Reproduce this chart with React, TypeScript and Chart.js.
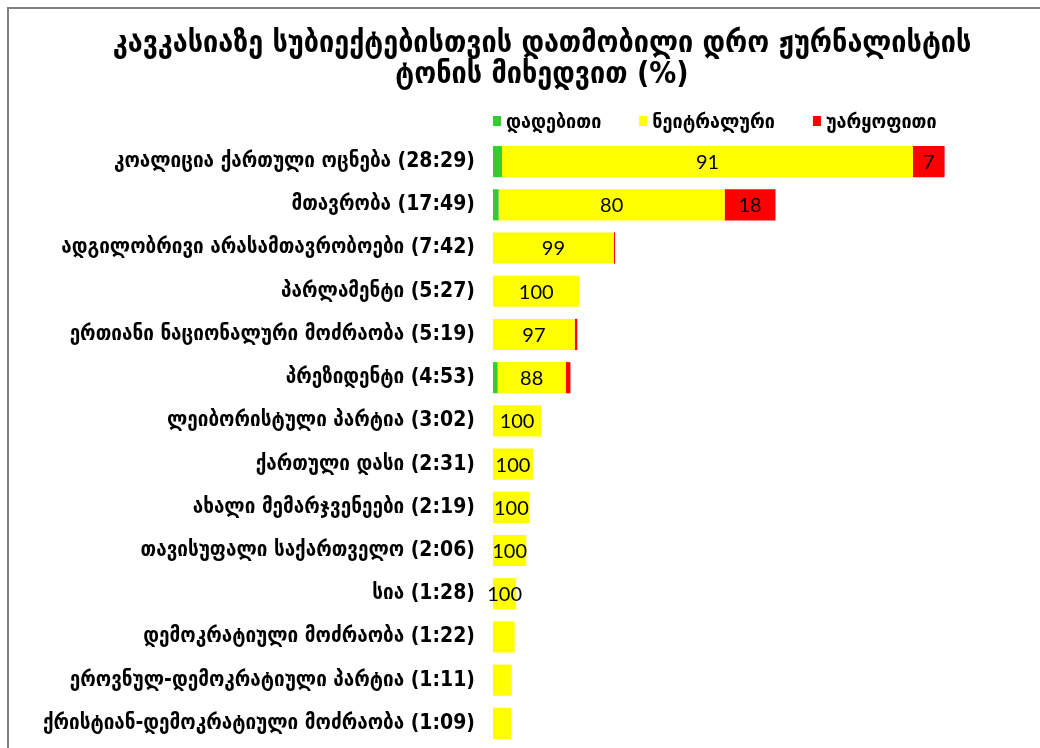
import React, { useEffect, useRef } from "react";
import { Chart, registerables } from "chart.js";

Chart.register(...registerables);

const TITLE_LINES = [
  "კავკასიაზე სუბიექტებისთვის დათმობილი დრო ჟურნალისტის",
  "ტონის მიხედვით (%)",
];

const SUBJECTS = [
  "კოალიცია ქართული ოცნება",
  "მთავრობა",
  "ადგილობრივი არასამთავრობოები",
  "პარლამენტი",
  "ერთიანი ნაციონალური მოძრაობა",
  "პრეზიდენტი",
  "ლეიბორისტული პარტია",
  "ქართული დასი",
  "ახალი მემარჯვენეები",
  "თავისუფალი საქართველო",
  "სია",
  "დემოკრატიული მოძრაობა",
  "ეროვნულ-დემოკრატიული პარტია",
  "ქრისტიან-დემოკრატიული მოძრაობა",
];

// speaking time (mm:ss)
const DURATIONS = [
  "28:29", "17:49", "7:42", "5:27", "5:19", "4:53", "3:02",
  "2:31", "2:19", "2:06", "1:28", "1:22", "1:11", "1:09",
];

const SERIES_NAMES = ["დადებითი", "ნეიტრალური", "უარყოფითი"];
const POSITIVE = [2, 2, 0, 0, 0, 6, 0, 0, 0, 0, 0, 0, 0, 0];
const NEUTRAL = [91, 80, 99, 100, 97, 88, 100, 100, 100, 100, 100, 100, 100, 100];
const NEGATIVE = [7, 18, 1, 0, 3, 6, 0, 0, 0, 0, 0, 0, 0, 0];
const COLORS = ["#33CC33", "#FFFF00", "#FF0000"];

const GEO_FONT = "'DejaVu Sans Condensed', 'DejaVu Sans', sans-serif";
const NUM_FONT = "Lato, 'Open Sans', sans-serif";

const toMinutes = (d: string) => {
  const [m, s] = d.split(":").map(Number);
  return m + s / 60;
};

const framePlugin = {
  id: "frame",
  beforeDraw(chart: any) {
    const { ctx, width, height } = chart;
    ctx.save();
    ctx.fillStyle = "#ffffff";
    ctx.fillRect(0, 0, width, height);
    ctx.fillStyle = "#808080";
    ctx.fillRect(7, 7, width - 7, 2);
    ctx.fillRect(7, 7, 2, height - 7);
    ctx.restore();
  },
};

const legendPlugin = {
  id: "customLegend",
  afterDraw(chart: any) {
    const { ctx, chartArea } = chart;
    ctx.save();
    ctx.font = `bold 20px ${GEO_FONT}`;
    ctx.textBaseline = "middle";
    ctx.textAlign = "left";
    let x = chartArea.left;
    const y = chartArea.top - 17;
    chart.data.datasets.forEach((ds: any) => {
      ctx.fillStyle = ds.backgroundColor;
      ctx.fillRect(x, y - 7, 8, 10);
      ctx.fillStyle = "#000";
      ctx.fillText(ds.label, x + 13, y);
      x += 13 + ctx.measureText(ds.label).width + 38;
    });
    ctx.restore();
  },
};

const valueLabelPlugin = {
  id: "valueLabels",
  afterDatasetsDraw(chart: any) {
    const { ctx } = chart;
    ctx.save();
    ctx.font = `20px ${NUM_FONT}`;
    ctx.fillStyle = "#000";
    ctx.textAlign = "center";
    ctx.textBaseline = "middle";
    chart.data.datasets.forEach((ds: any, di: number) => {
      const meta = chart.getDatasetMeta(di);
      meta.data.forEach((el: any, i: number) => {
        const v = ds.data[i];
        if (!v || v < 1.4) return;
        const { x, base, y } = el.getProps(["x", "base", "y"], true);
        ctx.fillText(String(ds.pct[i]), (x + base) / 2, y + 1);
      });
    });
    ctx.restore();
  },
};

export default function App() {
  const ref = useRef<HTMLCanvasElement | null>(null);

  useEffect(() => {
    if (!ref.current) return;
    const minutes = DURATIONS.map(toMinutes);
    const labels = SUBJECTS.map((s, i) => `${s} (${DURATIONS[i]})`);
    const series = [POSITIVE, NEUTRAL, NEGATIVE];
    const chart = new Chart(ref.current, {
      type: "bar",
      data: {
        labels,
        datasets: series.map((pcts, si) => ({
          label: SERIES_NAMES[si],
          data: pcts.map((p, i) => (minutes[i] * p) / 100),
          pct: pcts,
          backgroundColor: COLORS[si],
          borderWidth: 0,
          categoryPercentage: 0.8,
          barPercentage: 0.9,
        })) as any,
      },
      options: {
        indexAxis: "y",
        animation: false,
        responsive: false,
        devicePixelRatio: 1,
        layout: { padding: { left: 44, right: 0, top: 10, bottom: 3 } },
        plugins: {
          legend: { display: false },
          tooltip: { enabled: false },
          title: {
            display: true,
            text: TITLE_LINES,
            color: "#000",
            font: { family: GEO_FONT, size: 30, weight: "bold", lineHeight: 1.05 },
            padding: { top: 18, bottom: 49 },
          },
        },
        scales: {
          x: {
            stacked: true,
            display: false,
            min: 0,
            max: 34.5,
            ticks: { display: false },
            grid: { display: false, drawTicks: false },
          },
          y: {
            stacked: true,
            grid: { display: false, drawTicks: false },
            border: { display: false },
            ticks: {
              autoSkip: false,
              color: "#000",
              padding: 18,
              font: { family: GEO_FONT, size: 21, weight: "bold" },
            },
            afterFit(scale: any) {
              scale.width = 449;
              scale.paddingTop = 0;
              scale.paddingBottom = 0;
            },
          },
        },
      } as any,
      plugins: [framePlugin, legendPlugin, valueLabelPlugin],
    });
    return () => chart.destroy();
  }, []);

  return (
    <div style={{ position: "fixed", left: 0, top: 0, width: 1040, height: 748 }}>
      <canvas ref={ref} width={1040} height={748} />
    </div>
  );
}
